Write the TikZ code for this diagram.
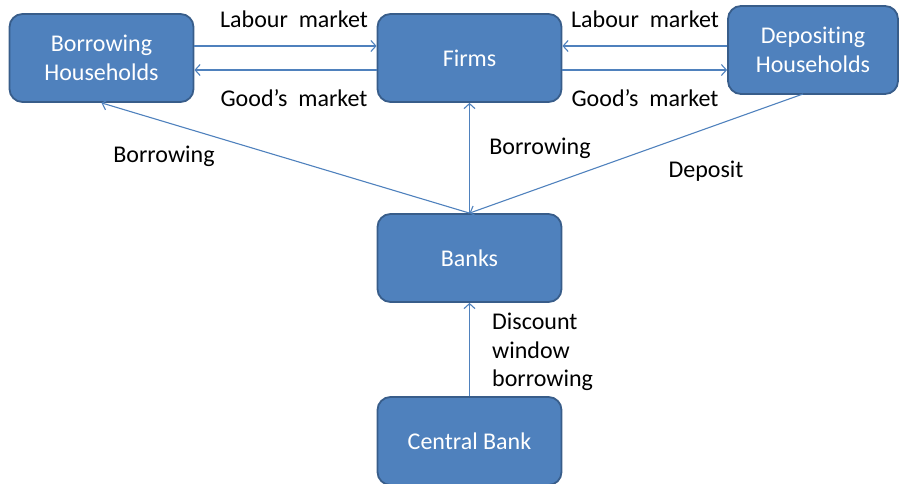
\documentclass[tikz,border=0pt]{standalone}
\usepackage{fontspec}
\setmainfont[Ligatures=NoCommon]{Carlito}
\usetikzlibrary{arrows.meta}
\definecolor{boxfill}{HTML}{4F81BD}
\definecolor{boxline}{HTML}{385D8A}
\definecolor{arrowc}{HTML}{4F81BD}
\begin{document}
\begin{tikzpicture}[x=1pt,y=-1pt,
  box/.style={draw=boxline,line width=1.8pt,fill=boxfill,rounded corners=13pt,
    minimum width=184pt,minimum height=88pt,align=center,text=white,
    font=\fontsize{24}{29}\selectfont,inner sep=0pt},
  conn/.style={draw=arrowc,line width=1.1pt,-{Straight Barb[length=5pt,width=11pt]}},
  lbl/.style={font=\fontsize{24}{28}\selectfont,text=black,inner sep=0pt}]
\useasboundingbox (0,0) rectangle (904,484);
\node[box] (bh) at (101.5,58) {Borrowing\\Households};
\node[box] (firms) at (469.5,58) {Firms};
\node[box,minimum width=170pt] (dh) at (813,50) {Depositing\\Households};
\node[box] (banks) at (469.5,258) {Banks};
\node[box] (cb) at (469.5,441) {Central Bank};
\draw[conn] (bh.east |- 0,46) -- (firms.west |- 0,46);
\draw[conn] (firms.west |- 0,70) -- (bh.east |- 0,70);
\draw[conn] (dh.west |- 0,46) -- (firms.east |- 0,46);
\draw[conn] (firms.east |- 0,70) -- (dh.west |- 0,70);
\draw[conn] (banks.north) -- (bh.south);
\draw[conn] (banks.north) -- (firms.south);
\draw[conn] (803,94) -- (banks.north);
\draw[conn] (cb.north) -- (banks.south);
\node[lbl] (l1) at (294,19) {Labour\ \ market};
\node[lbl] (g1) at (294,98) {Good’s\ \ market};
\node[lbl] (l2) at (645,19) {Labour\ \ market};
\node[lbl] (g2) at (645,98) {Good’s\ \ market};
\node[lbl] (b1) at (164,156) {Borrowing};
\node[lbl] (b2) at (540,148) {Borrowing};
\node[lbl] (dep) at (706,171) {Deposit};
\node[lbl,align=left,anchor=west,font=\fontsize{24}{28.5}\selectfont] (dw) at (492,352) {Discount\\window\\borrowing};
\end{tikzpicture}
\end{document}
